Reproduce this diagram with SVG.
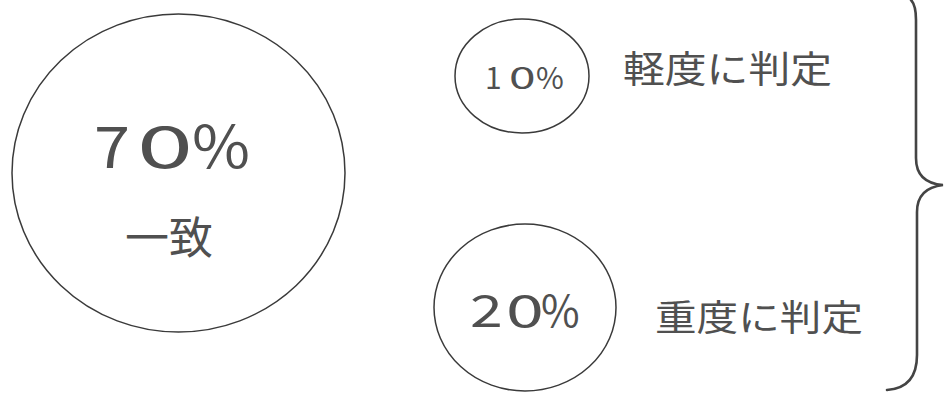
<svg xmlns="http://www.w3.org/2000/svg" width="945" height="398" viewBox="0 0 945 398">
<style>
.c{fill:none;stroke:#3a3a3a;stroke-width:1.5}
.b{fill:none;stroke:#444;stroke-width:2.6;stroke-linecap:round}
.t{font-family:"Noto Sans CJK JP","Noto Sans",sans-serif;fill:#505050}
</style>
<rect width="945" height="398" fill="#ffffff"/>
<g id="node-70">
<ellipse class="c" cx="178.5" cy="173" rx="166.5" ry="159"/>
<text class="t" font-size="58"><tspan x="94" y="168" textLength="36" lengthAdjust="spacingAndGlyphs">7</tspan></text>
<text class="t" font-size="58"><tspan x="137" y="168" textLength="56" lengthAdjust="spacingAndGlyphs">0</tspan></text>
<text class="t" font-size="58"><tspan x="192" y="168" textLength="58" lengthAdjust="spacingAndGlyphs">%</tspan></text>
<text class="t" x="169" y="254" font-size="44" text-anchor="middle">一致</text>
</g>
<g id="node-10">
<ellipse class="c" cx="522" cy="76" rx="67" ry="57"/>
<text class="t" font-size="30"><tspan x="485" y="89">1</tspan></text>
<text class="t" font-size="30"><tspan x="509" y="89" textLength="26.6" lengthAdjust="spacingAndGlyphs">0</tspan></text>
<text class="t" font-size="30"><tspan x="536" y="89" textLength="27.8" lengthAdjust="spacingAndGlyphs">%</tspan></text>
</g>
<g id="node-20">
<ellipse class="c" cx="525" cy="307.5" rx="91" ry="83.5"/>
<text class="t" font-size="44"><tspan x="470" y="327" textLength="32.7" lengthAdjust="spacingAndGlyphs">2</tspan></text>
<text class="t" font-size="44"><tspan x="506" y="327" textLength="37.8" lengthAdjust="spacingAndGlyphs">0</tspan></text>
<text class="t" font-size="44"><tspan x="541" y="327" textLength="38.6" lengthAdjust="spacingAndGlyphs">%</tspan></text>
</g>
<g id="label-mild">
<text class="t" x="623" y="83" font-size="37" textLength="209" lengthAdjust="spacingAndGlyphs">軽度に判定</text>
</g>
<g id="label-severe">
<text class="t" x="655" y="331" font-size="36" textLength="208" lengthAdjust="spacingAndGlyphs">重度に判定</text>
</g>
<g id="connectors">
<path class="b" d="M 911 0 Q 916 5 916 20 L 916 158 Q 916 183 943 185 Q 917 188 917 212 L 917 355 Q 917 388 887 390"/>
</g>
</svg>
